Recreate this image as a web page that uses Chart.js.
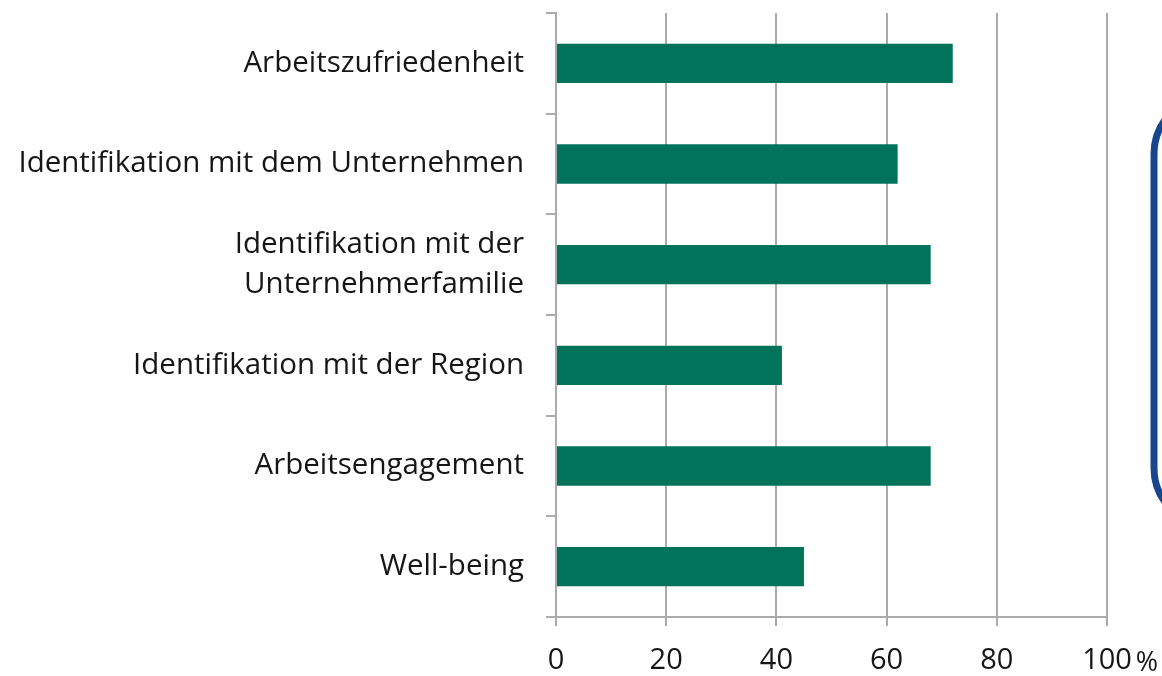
<!DOCTYPE html>
<html>
<head>
<meta charset="utf-8">
<script src="https://cdn.jsdelivr.net/npm/chart.js@4.4.1/dist/chart.umd.min.js"></script>
<style>
  html, body { margin: 0; padding: 0; background: #ffffff; }
  #wrap { width: 1162px; height: 676px; position: relative; }
</style>
</head>
<body>
<div id="wrap"><canvas id="c" width="1162" height="676"></canvas></div>
<script>
const categories = [
  "Arbeitszufriedenheit",
  "Identifikation mit dem Unternehmen",
  ["Identifikation mit der", "Unternehmerfamilie"],
  "Identifikation mit der Region",
  "Arbeitsengagement",
  "Well-being"
];
const values = [72, 62, 68, 41, 68, 45];
const xTicks = [0, 20, 40, 60, 80, 100];
const unitLabel = "%";

const FONT = "'Open Sans', Lato, sans-serif";
const TEXT = "#161616";
const GRID = "#ababab";
const XSIZE = 29;

const boxPlugin = {
  id: 'decor',
  afterDraw(chart) {
    const ctx = chart.ctx;
    const xs = chart.scales.x;
    const px = xs.getPixelForValue(100);
    ctx.save();
    ctx.fillStyle = TEXT;
    ctx.textBaseline = "middle";
    ctx.textAlign = "left";
    ctx.font = XSIZE + "px " + FONT;
    const w = ctx.measureText("100").width;
    ctx.font = "27px " + FONT;
    ctx.fillText(unitLabel, px + w / 2 + 4, 663);
    // blue rounded box (partially off canvas)
    ctx.strokeStyle = "#17468f";
    ctx.lineWidth = 7;
    ctx.beginPath();
    ctx.roundRect(1154, 96, 240, 430, 58);
    ctx.stroke();
    ctx.restore();
  }
};

new Chart(document.getElementById('c'), {
  type: 'bar',
  data: {
    labels: categories,
    datasets: [{
      data: values,
      backgroundColor: "#00735a",
      borderWidth: 0,
      barPercentage: 0.39,
      categoryPercentage: 1.0
    }]
  },
  options: {
    indexAxis: 'y',
    responsive: false,
    animation: false,
    layout: { padding: { top: 13, right: 55, left: 0, bottom: 0 } },
    plugins: { legend: { display: false }, tooltip: { enabled: false } },
    scales: {
      x: {
        min: 0, max: 100,
        afterBuildTicks(scale) { scale.ticks = xTicks.map(v => ({ value: v })); },
        afterFit(scale) { scale.height = 59; scale.paddingLeft = 0; scale.paddingRight = 0; },
        grid: { color: GRID, lineWidth: 2, drawTicks: true, tickLength: 9, tickColor: GRID },
        border: { color: GRID, width: 2 },
        ticks: { color: TEXT, font: { family: FONT, size: XSIZE }, padding: 17, maxRotation: 0 }
      },
      y: {
        afterFit(scale) { scale.width = 556; scale.paddingTop = 0; scale.paddingBottom = 0; },
        grid: { offset: true, drawOnChartArea: false, drawTicks: true, tickLength: 10, tickColor: GRID, lineWidth: 2 },
        border: { color: GRID, width: 2 },
        ticks: { color: TEXT, font: { family: FONT, size: 29.5, lineHeight: 1.36 }, padding: 22 }
      }
    }
  },
  plugins: [boxPlugin]
});
</script>
</body>
</html>
